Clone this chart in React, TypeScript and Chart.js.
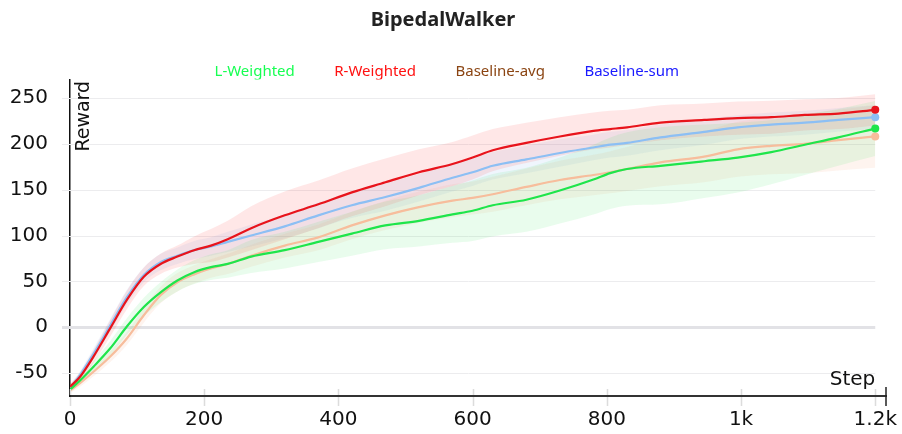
import React, { useEffect, useRef } from "react";
import { Chart, registerables } from "chart.js";

Chart.register(...registerables);

// ---- data ----
const steps = [0, 15, 35, 60, 85, 110, 135, 160, 185, 210, 235, 270, 320, 370, 420, 470, 520, 570, 600, 630, 680, 730, 780, 805, 830, 880, 945, 995, 1045, 1095, 1145, 1200];

const lWeighted = [-68, -58, -43, -23, 1, 22, 38, 51, 60, 65.5, 69, 77, 84, 93, 102, 111, 116, 123, 127, 133, 139, 149, 161, 168, 172.5, 176, 181, 185, 191, 199, 207, 216.6];
const rWeighted = [-65, -54, -32, -1, 30, 55, 69, 77, 84, 89, 96, 108, 122, 134, 147, 158, 169, 178, 185, 193, 201, 208, 214, 216, 218, 223, 226, 228, 229, 231.5, 233, 237];
const baselineAvg = [-69, -61, -48.6, -32, -12, 13, 35, 49, 57.6, 64, 69, 78, 89, 98, 111, 122, 131, 138, 141, 145, 153, 160.5, 166, 169, 172.5, 179.7, 186, 194, 197.8, 200, 204, 208];
const baselineSum = [-66, -52, -29, 2, 33, 57, 71, 78, 84, 88, 93, 100, 110, 122, 133, 142, 152, 163, 169, 176, 183, 190, 196, 199, 201, 207, 213, 218, 221, 223, 226, 229];

// half-width of the shaded band around each mean line
const lWeightedSpread = [3, 4, 6, 8, 9, 10, 11, 12, 13, 14, 15, 18, 20, 22, 24, 26, 28, 31, 33, 34, 35, 36, 38, 39, 40, 42, 40, 38, 35, 33, 31, 30];
const rWeightedSpread = [3, 5, 7, 9, 10, 10, 11, 12, 15, 18, 20, 24, 26, 26, 26, 26, 25, 24, 24, 23, 22, 21, 20, 20, 19, 19, 18, 18, 18, 17, 17, 17];
const baselineAvgSpread = [3, 4, 5, 6, 7, 8, 9, 10, 10, 10, 11, 12, 13, 14, 15, 16, 17, 18, 18, 19, 20, 21, 22, 23, 24, 26, 28, 30, 31, 32, 33, 34];
const baselineSumSpread = [3, 4, 6, 7, 8, 8, 9, 9, 10, 10, 11, 12, 13, 14, 14, 15, 15, 15, 15, 15, 15, 15, 14, 14, 14, 14, 14, 13, 13, 13, 13, 13];

const seriesNames = ["L-Weighted", "R-Weighted", "Baseline-avg", "Baseline-sum"];
const yTicks = [-50, 0, 50, 100, 150, 200, 250];
const xTicks = [0, 200, 400, 600, 800, 1000, 1200];
const xTickLabels = ["0", "200", "400", "600", "800", "1k", "1.2k"];

const TITLE = "BipedalWalker";
const X_LABEL = "Step";
const Y_LABEL = "Reward";

// ---- styles ----
const lineColors = ["#1fe54b", "#e8141c", "#f7bd9c", "#8cbff4"];
const bandColors = [
  "rgba(40, 225, 80, 0.10)",
  "rgba(255, 60, 60, 0.12)",
  "rgba(245, 165, 120, 0.12)",
  "rgba(120, 170, 240, 0.12)",
];
const legendColors = ["#17ff52", "#ff1010", "#8b4513", "#1a1aff"];
const AXIS_FONT = "DejaVu Sans";
const TEXT_FONT = "Noto Sans";

const means = [lWeighted, rWeighted, baselineAvg, baselineSum];
const spreads = [lWeightedSpread, rWeightedSpread, baselineAvgSpread, baselineSumSpread];

const toPts = (vals: number[]) => steps.map((s, i) => ({ x: s, y: vals[i] }));

const decorPlugin = {
  id: "decor",
  beforeDatasetsDraw(chart: any) {
    const { ctx, chartArea, scales } = chart;
    const xs = scales.x;
    const ys = scales.y;
    const gridRight = xs.getPixelForValue(xTicks[xTicks.length - 1]);
    ctx.save();
    yTicks.forEach((v) => {
      const py = Math.round(ys.getPixelForValue(v)) + 0.5;
      ctx.beginPath();
      ctx.lineWidth = v === 0 ? 3 : 1;
      ctx.strokeStyle = v === 0 ? "#e2e2e6" : "#ececee";
      ctx.moveTo(chartArea.left - 8, py);
      ctx.lineTo(gridRight, py);
      ctx.stroke();
    });
    ctx.restore();
  },
  afterDraw(chart: any) {
    const { ctx, chartArea, scales } = chart;
    const xs = scales.x;
    const gridRight = xs.getPixelForValue(xTicks[xTicks.length - 1]);
    ctx.save();
    // x tick marks
    ctx.strokeStyle = "#dcdcdc";
    ctx.lineWidth = 1.5;
    xTicks.forEach((v) => {
      const px = Math.round(xs.getPixelForValue(v)) + 0.5;
      ctx.beginPath();
      ctx.moveTo(px, chartArea.bottom - 7);
      ctx.lineTo(px, chartArea.bottom - 1);
      ctx.moveTo(px, chartArea.bottom + 1);
      ctx.lineTo(px, chartArea.bottom + 10);
      ctx.stroke();
    });
    // end cap on x axis
    ctx.strokeStyle = "#222";
    ctx.lineWidth = 1.5;
    ctx.beginPath();
    ctx.moveTo(chartArea.right, chartArea.bottom - 9);
    ctx.lineTo(chartArea.right, chartArea.bottom + 10);
    ctx.stroke();
    // axis titles
    ctx.fillStyle = "#111";
    ctx.font = `19px "${AXIS_FONT}"`;
    ctx.textAlign = "left";
    ctx.textBaseline = "alphabetic";
    ctx.translate(chartArea.left + 19, chartArea.top + 72);
    ctx.rotate(-Math.PI / 2);
    ctx.fillText(Y_LABEL, 0, 0);
    ctx.restore();
    ctx.save();
    ctx.fillStyle = "#111";
    ctx.font = `20px "${AXIS_FONT}"`;
    ctx.textAlign = "right";
    ctx.textBaseline = "alphabetic";
    ctx.fillText(X_LABEL, gridRight, chartArea.bottom - 11);
    ctx.restore();
  },
};

export default function App() {
  const ref = useRef<HTMLCanvasElement | null>(null);

  useEffect(() => {
    document.body.style.margin = "0";
    if (!ref.current) return;

    const datasets: any[] = [];
    means.forEach((m, k) => {
      const sp = spreads[k];
      datasets.push({
        label: seriesNames[k] + " upper",
        data: toPts(m.map((v, i) => v + sp[i])),
        borderWidth: 0,
        pointRadius: 0,
        backgroundColor: bandColors[k],
        fill: "+1",
        cubicInterpolationMode: "monotone",
        order: 5,
      });
      datasets.push({
        label: seriesNames[k] + " lower",
        data: toPts(m.map((v, i) => v - sp[i])),
        borderWidth: 0,
        pointRadius: 0,
        fill: false,
        cubicInterpolationMode: "monotone",
        order: 5,
      });
    });
    const lineIdx: number[] = [];
    means.forEach((m, k) => {
      lineIdx.push(datasets.length);
      datasets.push({
        label: seriesNames[k],
        data: toPts(m),
        borderColor: lineColors[k],
        backgroundColor: lineColors[k],
        borderWidth: 2.2,
        pointRadius: steps.map((_, i) => (i === steps.length - 1 ? 4 : 0)),
        pointBorderWidth: 0,
        pointBackgroundColor: lineColors[k],
        fill: false,
        cubicInterpolationMode: "monotone",
        order: [2, 1, 4, 3][k],
      });
    });

    const chart = new Chart(ref.current, {
      type: "line",
      data: { datasets },
      plugins: [decorPlugin],
      options: {
        animation: false,
        responsive: false,
        events: [],
        layout: { padding: { left: 0, right: 16, top: 0, bottom: 0 } },
        plugins: {
          tooltip: { enabled: false },
          title: {
            display: true,
            text: TITLE,
            color: "#222",
            font: { family: TEXT_FONT, size: 20, weight: "bold" },
            padding: { top: 8, bottom: 0 },
          },
          legend: {
            display: true,
            position: "top",
            maxHeight: 47.6,
            labels: {
              boxWidth: 0,
              boxHeight: 15,
              padding: 32,
              font: { family: TEXT_FONT, size: 15 },
              generateLabels: () =>
                seriesNames.map((name, k) => ({
                  text: name,
                  fontColor: legendColors[k],
                  fillStyle: "rgba(0,0,0,0)",
                  strokeStyle: "rgba(0,0,0,0)",
                  lineWidth: 0,
                  hidden: false,
                  datasetIndex: lineIdx[k],
                })),
            },
          },
        },
        scales: {
          x: {
            type: "linear",
            min: 0,
            max: 1216,
            afterBuildTicks: (scale: any) => {
              scale.ticks = xTicks.map((v) => ({ value: v }));
            },
            afterFit: (scale: any) => {
              scale.height = 38;
            },
            ticks: {
              color: "#111",
              font: { family: AXIS_FONT, size: 20 },
              padding: 4,
              maxRotation: 0,
              autoSkip: false,
              callback: (_v: any, i: number) => xTickLabels[i],
            },
            grid: { color: "rgba(0,0,0,0)", tickLength: 8, drawOnChartArea: false },
            border: { display: true, color: "#333", width: 2 },
          },
          y: {
            type: "linear",
            min: -75,
            max: 270,
            afterBuildTicks: (scale: any) => {
              scale.ticks = yTicks.map((v) => ({ value: v }));
            },
            afterFit: (scale: any) => {
              scale.width = 70;
            },
            ticks: {
              color: "#111",
              font: { family: AXIS_FONT, size: 20 },
              padding: 14,
              autoSkip: false,
              callback: (v: any) => String(v),
            },
            grid: { color: "rgba(0,0,0,0)", tickLength: 8, drawOnChartArea: false },
            border: { display: true, color: "#111", width: 1.5 },
          },
        },
      },
    });
    return () => chart.destroy();
  }, []);

  return (
    <div style={{ width: 902, height: 434, background: "#fff" }}>
      <canvas ref={ref} width={902} height={434} style={{ display: "block" }} />
    </div>
  );
}
